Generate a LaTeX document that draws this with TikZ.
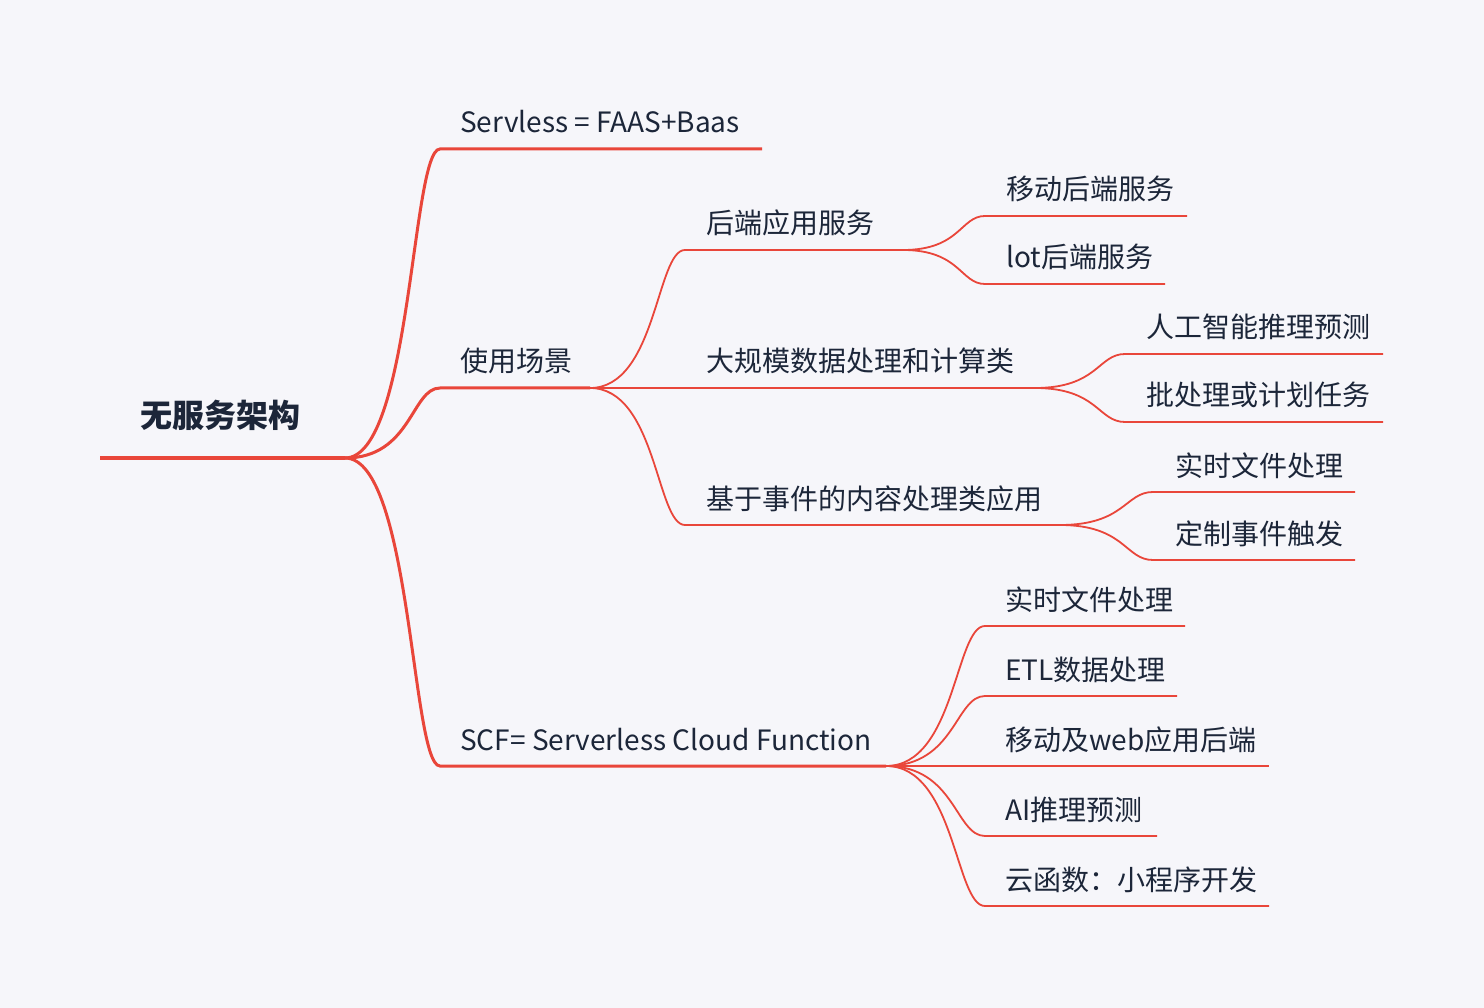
\documentclass[tikz,border=0pt]{standalone}
\usepackage{fontspec}
\setmainfont{Noto Sans CJK SC}
\usepackage{xcolor}
\usetikzlibrary{calc}
\definecolor{mmred}{HTML}{E9463A}
\definecolor{mmtext}{HTML}{1C2639}
\definecolor{mmback}{HTML}{F6F6FA}
\tikzset{
roottext/.style={anchor=base west, inner sep=0pt, text=mmtext, font=\fontsize{32}{37}\selectfont\bfseries},
topictext/.style={anchor=base west, inner sep=0pt, text=mmtext, font=\fontsize{28}{33}\selectfont},
rootline/.style={draw=mmred, line width=4.5pt},
mainline/.style={draw=mmred, line width=3pt},
subline/.style={draw=mmred, line width=1.8pt},
}
\newcommand{\branch}[4][subline]{%
\draw[#1] let \p1=(#2), \p2=(#3) in (#2) .. controls ({0.3*\x1+0.7*\x2},\y1) and ({0.3*\x1+0.7*\x2},\y2) .. (#3) -- (#4);}

\begin{document}
\begin{tikzpicture}[x=1pt,y=-1pt]
        \fill[mmback] (0,0) rectangle (1484,1008);
        \useasboundingbox (0,0) rectangle (1484,1008);

        \node[roottext] at (140,427) (root) {无服务架构};
        \coordinate (root-s) at (100,458);
        \coordinate (root-e) at (345,458);
        \draw[rootline] (root-s)--(root-e);

        \node[topictext] at (460,133) (faas) {Servless = FAAS+Baas};
        \coordinate (faas-s) at (440,149);
        \coordinate (faas-e) at (762,149);
        \node[topictext] at (460,372) (scene) {使用场景};
        \coordinate (scene-s) at (440,388);
        \coordinate (scene-e) at (590,388);
        \node[topictext] at (460,750) (scf) {SCF= Serverless Cloud Function};
        \coordinate (scf-s) at (440,766);
        \coordinate (scf-e) at (886,766);
        \branch[mainline]{root-e}{faas-s}{faas-e}
        \branch[mainline]{root-e}{scene-s}{scene-e}
        \branch[mainline]{root-e}{scf-s}{scf-e}

        \node[topictext] at (706,234) (backend) {后端应用服务};
        \coordinate (backend-s) at (685,250);
        \coordinate (backend-e) at (903,250);
        \node[topictext] at (706,372) (bigdata) {大规模数据处理和计算类};
        \coordinate (bigdata-s) at (685,388);
        \coordinate (bigdata-e) at (1035,388);
        \node[topictext] at (706,509) (event) {基于事件的内容处理类应用};
        \coordinate (event-s) at (685,525);
        \coordinate (event-e) at (1060,525);
        \branch{scene-e}{backend-s}{backend-e}
        \branch{scene-e}{bigdata-s}{bigdata-e}
        \branch{scene-e}{event-s}{event-e}

        \node[topictext] at (1006,200) (mobile) {移动后端服务};
        \coordinate (mobile-s) at (985,216);
        \coordinate (mobile-e) at (1187,216);
        \node[topictext] at (1006,268) (iot) {lot后端服务};
        \coordinate (iot-s) at (985,284);
        \coordinate (iot-e) at (1165,284);
        \branch{backend-e}{mobile-s}{mobile-e}
        \branch{backend-e}{iot-s}{iot-e}

        \node[topictext] at (1146,338) (ai) {人工智能推理预测};
        \coordinate (ai-s) at (1125,354);
        \coordinate (ai-e) at (1383,354);
        \node[topictext] at (1146,406) (batch) {批处理或计划任务};
        \coordinate (batch-s) at (1125,422);
        \coordinate (batch-e) at (1383,422);
        \branch{bigdata-e}{ai-s}{ai-e}
        \branch{bigdata-e}{batch-s}{batch-e}

        \node[topictext] at (1175,476) (file) {实时文件处理};
        \coordinate (file-s) at (1153,492);
        \coordinate (file-e) at (1355,492);
        \node[topictext] at (1175,544) (trigger) {定制事件触发};
        \coordinate (trigger-s) at (1153,560);
        \coordinate (trigger-e) at (1355,560);
        \branch{event-e}{file-s}{file-e}
        \branch{event-e}{trigger-s}{trigger-e}

        \node[topictext] at (1005,610) (scffile) {实时文件处理};
        \coordinate (scffile-s) at (985,626);
        \coordinate (scffile-e) at (1185,626);
        \node[topictext] at (1005,680) (etl) {ETL数据处理};
        \coordinate (etl-s) at (985,696);
        \coordinate (etl-e) at (1177,696);
        \node[topictext] at (1005,750) (web) {移动及web应用后端};
        \coordinate (web-s) at (985,766);
        \coordinate (web-e) at (1269,766);
        \node[topictext] at (1005,820) (aipred) {AI推理预测};
        \coordinate (aipred-s) at (985,836);
        \coordinate (aipred-e) at (1157,836);
        \node[topictext] at (1005,890) (cloudfn) {云函数：小程序开发};
        \coordinate (cloudfn-s) at (985,906);
        \coordinate (cloudfn-e) at (1269,906);
        \branch{scf-e}{scffile-s}{scffile-e}
        \branch{scf-e}{etl-s}{etl-e}
        \branch{scf-e}{web-s}{web-e}
        \branch{scf-e}{aipred-s}{aipred-e}
        \branch{scf-e}{cloudfn-s}{cloudfn-e}
\end{tikzpicture}
\end{document}
